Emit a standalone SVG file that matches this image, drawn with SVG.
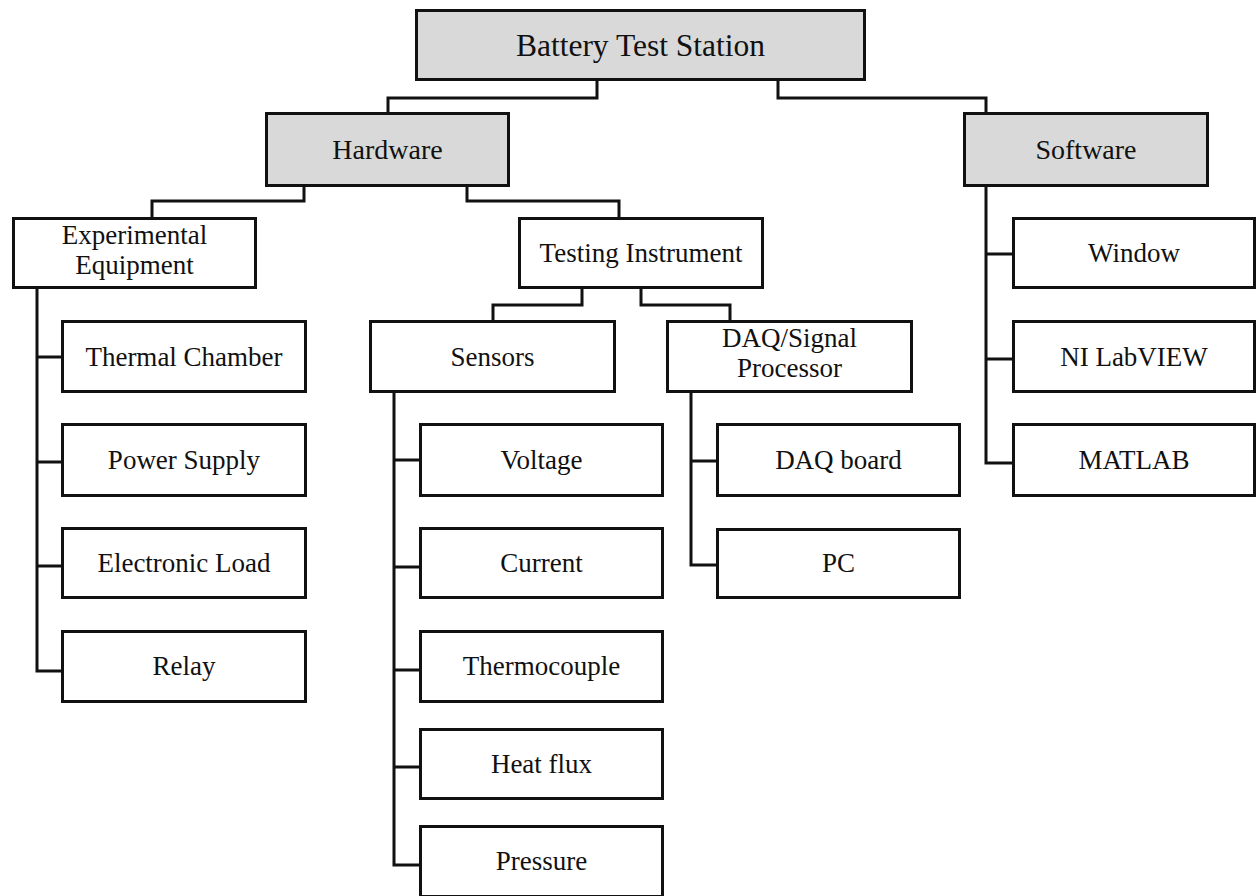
<svg xmlns="http://www.w3.org/2000/svg" width="1257" height="896" viewBox="0 0 1257 896">
<style>
.box{fill:#ffffff;stroke:#111111;stroke-width:3}
.top{fill:#d9d9d9;stroke:#111111;stroke-width:3}
.lbl{font-family:"Liberation Serif","Times New Roman",serif;font-size:27px;fill:#111111;text-anchor:middle}
.big{font-size:31.5px}
.mid{font-size:28px}
.conn{fill:none;stroke:#111111;stroke-width:3;stroke-linejoin:miter}
</style>
<rect width="1257" height="896" fill="#ffffff"/>
<g id="connectors" class="conn">
<path d="M597,81 V98 H388 V112"/>
<path d="M778,81 V98 H986 V112"/>
<path d="M304,187 V201 H152 V217"/>
<path d="M467,187 V201 H619 V217"/>
<path d="M582,289 V305 H493 V320"/>
<path d="M641,289 V305 H730 V320"/>
<path d="M37,289 V671 H61 M37,357 H61 M37,462 H61 M37,566 H61"/>
<path d="M394,393 V865 H419 M394,460 H419 M394,567 H419 M394,670 H419 M394,767 H419"/>
<path d="M691,393 V565 H716 M691,461 H716"/>
<path d="M986,187 V463 H1012 M986,254 H1012 M986,359 H1012"/>
</g>
<g id="root"><rect class="top" x="416.5" y="10.5" width="448" height="69"/><text class="lbl big" x="640.5" y="55.5">Battery Test Station</text></g>
<g id="hardware"><rect class="top" x="266.5" y="113.5" width="242" height="72"/><text class="lbl mid" x="387.5" y="158.5">Hardware</text></g>
<g id="software"><rect class="top" x="964.5" y="113.5" width="243" height="72"/><text class="lbl mid" x="1086" y="158.5">Software</text></g>
<g id="experimental"><rect class="box" x="13.5" y="218.5" width="242" height="69"/><text class="lbl" x="134.5" y="244">Experimental</text><text class="lbl" x="134.5" y="274">Equipment</text></g>
<g id="testing"><rect class="box" x="519.5" y="218.5" width="243" height="69"/><text class="lbl" x="641" y="262">Testing Instrument</text></g>
<g id="window"><rect class="box" x="1013.5" y="218.5" width="241" height="69"/><text class="lbl" x="1134" y="262">Window</text></g>
<g id="sensors"><rect class="box" x="370.5" y="321.5" width="244" height="70"/><text class="lbl" x="492.5" y="366">Sensors</text></g>
<g id="daq"><rect class="box" x="667.5" y="321.5" width="244" height="70"/><text class="lbl" x="789.5" y="347">DAQ/Signal</text><text class="lbl" x="789.5" y="377">Processor</text></g>
<g id="labview"><rect class="box" x="1013.5" y="321.5" width="241" height="70"/><text class="lbl" x="1134" y="366">NI LabVIEW</text></g>
<g id="thermal"><rect class="box" x="62.5" y="321.5" width="243" height="70"/><text class="lbl" x="184" y="366">Thermal Chamber</text></g>
<g id="power"><rect class="box" x="62.5" y="424.5" width="243" height="71"/><text class="lbl" x="184" y="469">Power Supply</text></g>
<g id="eload"><rect class="box" x="62.5" y="528.5" width="243" height="69"/><text class="lbl" x="184" y="572">Electronic Load</text></g>
<g id="relay"><rect class="box" x="62.5" y="631.5" width="243" height="70"/><text class="lbl" x="184" y="675">Relay</text></g>
<g id="voltage"><rect class="box" x="420.5" y="424.5" width="242" height="71"/><text class="lbl" x="541.5" y="469">Voltage</text></g>
<g id="current"><rect class="box" x="420.5" y="528.5" width="242" height="69"/><text class="lbl" x="541.5" y="572">Current</text></g>
<g id="thermocouple"><rect class="box" x="420.5" y="631.5" width="242" height="70"/><text class="lbl" x="541.5" y="675">Thermocouple</text></g>
<g id="heatflux"><rect class="box" x="420.5" y="729.5" width="242" height="69"/><text class="lbl" x="541.5" y="773">Heat flux</text></g>
<g id="pressure"><rect class="box" x="420.5" y="826.5" width="242" height="70"/><text class="lbl" x="541.5" y="870">Pressure</text></g>
<g id="daqboard"><rect class="box" x="717.5" y="424.5" width="242" height="71"/><text class="lbl" x="838.5" y="469">DAQ board</text></g>
<g id="pc"><rect class="box" x="717.5" y="529.5" width="242" height="68"/><text class="lbl" x="838.5" y="572">PC</text></g>
<g id="matlab"><rect class="box" x="1013.5" y="424.5" width="241" height="71"/><text class="lbl" x="1134" y="469">MATLAB</text></g>
</svg>
